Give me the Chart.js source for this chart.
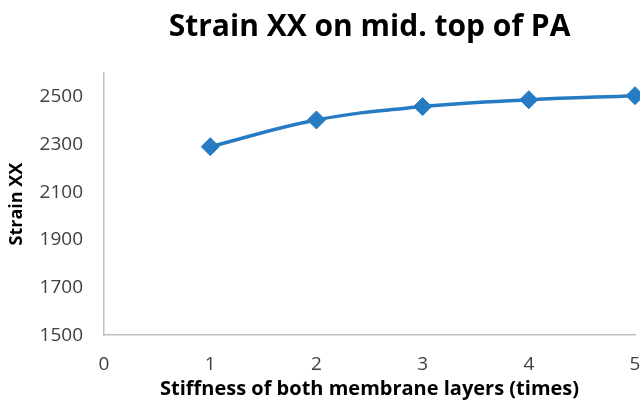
<!DOCTYPE html>
<html>
<head>
<meta charset="utf-8">
<script src="https://cdn.jsdelivr.net/npm/chart.js@4"></script>
<style>
  html, body { margin: 0; padding: 0; background: #fff; }
  canvas { display: block; }
</style>
</head>
<body>
<canvas id="strain-chart" width="640" height="401"></canvas>
<script>
const stiffness = [1, 2, 3, 4, 5]
const strainXX = [2291, 2403, 2459, 2488, 2505]
const xTicks = [0, 1, 2, 3, 4, 5]
const yTicks = [1500, 1700, 1900, 2100, 2300, 2500]

const lineColor = 'rgb(38,124,194)'
const axisColor = '#bfbfbf'
const textColor = '#404040'

const whiteBackground = {
  id: 'whiteBackground',
  beforeDraw(chart) {
    const ctx = chart.ctx
    ctx.save()
    ctx.fillStyle = '#fff'
    ctx.fillRect(0, 0, chart.width, chart.height)
    ctx.restore()
  }
}

// only show the ticks we list (no extra one at the axis max)
const keepTicks = (list) => (scale) => {
  scale.ticks = list.map(v => ({ value: v }))
}

const strainChartConfig = {
  type: 'line',
  data: {
    datasets: [{
      label: 'Strain XX',
      data: stiffness.map((x, i) => ({ x: x, y: strainXX[i] })),
      borderColor: lineColor,
      backgroundColor: lineColor,
      borderWidth: 3.5,
      tension: 0.4,
      pointStyle: 'rectRot',
      pointRadius: 9,
      pointHoverRadius: 9,
      pointBorderWidth: 1,
      clip: false
    }]
  },
  options: {
    responsive: false,
    animation: false,
    layout: { autoPadding: false, padding: { left: 6, right: 0, top: 0, bottom: 0 } },
    plugins: {
      legend: { display: false },
      tooltip: { enabled: false },
      title: {
        display: true,
        fullSize: false,
        text: 'Strain XX on mid. top of PA',
        color: '#000',
        font: { family: 'Open Sans', size: 30, weight: 'bold' },
        padding: { top: 9, bottom: 28 }
      }
    },
    scales: {
      x: {
        type: 'linear',
        min: 0,
        max: 5,
        afterBuildTicks: keepTicks(xTicks),
        // chart.js adds the tick padding on the right too, the "5" sits near the edge
        afterFit: (scale) => { scale.paddingRight = 5 },
        grid: { display: false, drawTicks: false },
        border: { display: true, color: axisColor, width: 1.5 },
        ticks: {
          color: textColor,
          padding: 18,
          font: { family: 'Open Sans', size: 19 },
          callback: (v) => String(v)
        },
        title: {
          display: true,
          text: 'Stiffness of both membrane layers (times)',
          color: '#000',
          font: { family: 'Open Sans', size: 20, weight: 'bold' },
          padding: { top: -17, bottom: 0 }
        }
      },
      y: {
        min: 1500,
        max: 2600,
        afterBuildTicks: keepTicks(yTicks),
        grid: { display: false, drawTicks: false },
        border: { display: true, color: axisColor, width: 1.5 },
        ticks: {
          color: textColor,
          padding: 21,
          font: { family: 'Open Sans', size: 19 },
          callback: (v) => String(v)
        },
        title: {
          display: true,
          text: 'Strain XX',
          color: '#000',
          font: { family: 'Open Sans', size: 18, weight: 'bold' },
          padding: { top: 0, bottom: -9 }
        }
      }
    }
  },
  plugins: [whiteBackground]
}

const strainChartEl = document.querySelector('#strain-chart')
const strainChart = new Chart(strainChartEl.getContext('2d'), strainChartConfig)
</script>
</body>
</html>
